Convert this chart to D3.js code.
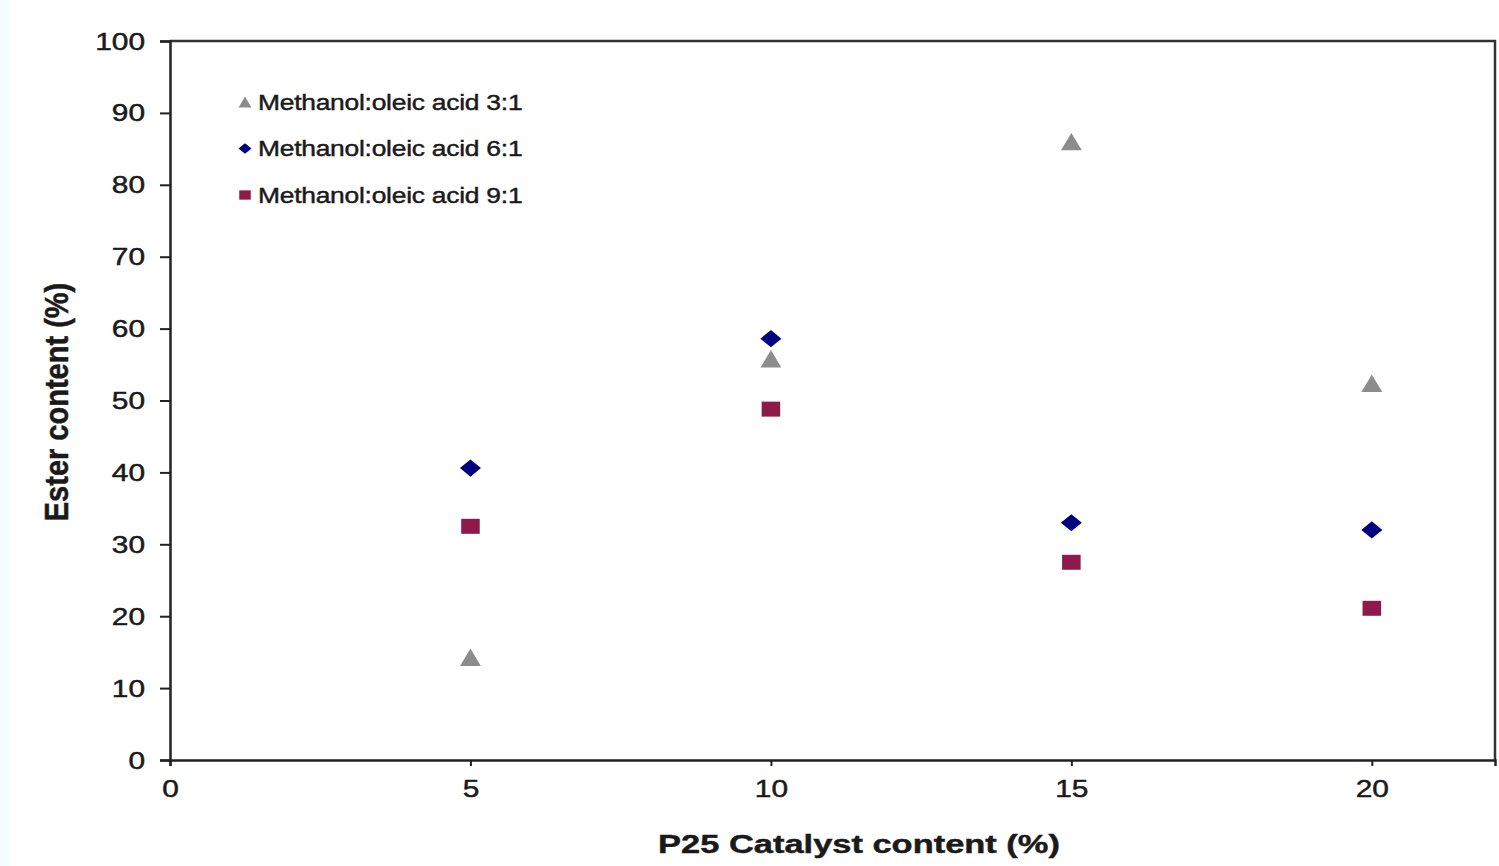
<!DOCTYPE html>
<html lang="en">
<head>
<meta charset="UTF-8">
<script src="https://d3js.org/d3.v7.min.js"></script>
<title>Ester content</title>
<style>
  body { margin: 0; background: #fff; }
  svg text { font-family: "Liberation Sans", Arial, sans-serif; fill: #1a1a1a; stroke: #1a1a1a; stroke-width: 0.45px; }
</style>
</head>
<body>
<div id="canvas"></div>
<script>
// data
const catalyst = [5, 10, 15, 20]
const ratio31 = [14.3, 55.8, 86.0, 52.4]
const ratio61 = [40.6, 58.6, 33.0, 32.0]
const ratio91 = [32.5, 48.8, 27.5, 21.1]
const seriesNames = ["Methanol:oleic acid 3:1", "Methanol:oleic acid 6:1", "Methanol:oleic acid 9:1"]
const xTicks = [0, 5, 10, 15, 20]
const yTicks = [0, 10, 20, 30, 40, 50, 60, 70, 80, 90, 100]

const W = 1499, H = 866
const margin = {top: 41, right: 4, bottom: 106, left: 170}
const gW = W - margin.left - margin.right
const gH = H - margin.top - margin.bottom
const stretch = 1.3   // the original picture is widened horizontally

const svg = d3.select("#canvas").append("svg").attr("width", W).attr("height", H)

// faint strip on the left edge of the original scan
svg.append("rect").attr("x", 0).attr("y", 0).attr("width", 10).attr("height", H).attr("fill", "#f4fdfd")

const g = svg.append("g").attr("transform", `translate(${margin.left},${margin.top})`)

const x = d3.scaleLinear().domain([0, 22.05]).range([0, gW])
const y = d3.scaleLinear().domain([0, 100]).range([gH, 0])

// frame on top and right
g.append("path")
  .attr("d", `M0,0H${gW}V${gH}`)
  .attr("fill", "none").attr("stroke", "#333").attr("stroke-width", 2.5)

const xAxis = g.append("g").attr("transform", `translate(0,${gH})`)
  .call(d3.axisBottom(x).tickValues(xTicks).tickSize(6).tickPadding(15))
const yAxis = g.append("g")
  .call(d3.axisLeft(y).tickValues(yTicks).tickSize(10).tickPadding(15))

;[xAxis, yAxis].forEach(a => {
  a.select(".domain").attr("stroke", "#222").attr("stroke-width", 2.5)
  a.selectAll(".tick line").attr("stroke", "#222").attr("stroke-width", 2)
  a.selectAll(".tick text").style("font-size", "23px").attr("fill", "#1a1a1a")
    .attr("transform", `scale(${stretch},1)`)
})
yAxis.selectAll(".tick text").attr("dy", "0.35em").attr("x", -25 / stretch)

// axis titles
svg.append("text")
  .attr("transform", `translate(859,853) scale(${stretch},1)`)
  .attr("text-anchor", "middle")
  .style("font-size", "26.5px").style("font-weight", "bold")
  .text("P25 Catalyst content (%)")
svg.append("text")
  .attr("transform", "translate(68,402) rotate(-90) scale(1,1.15)")
  .attr("text-anchor", "middle")
  .style("font-size", "29px").style("font-weight", "bold")
  .text("Ester content (%)")

const symTri = d3.symbol().type(d3.symbolTriangle).size(150)
const symDia = d3.symbol().type(d3.symbolDiamond).size(150)
const symSq = d3.symbol().type(d3.symbolSquare).size(260)
// the triangle's centroid sits below the middle of its box; shift it down a little
const triOffset = Math.sqrt(150 / (3 * Math.sqrt(3))) / 2

const series = [
  {name: seriesNames[0], values: ratio31, sym: symTri, color: "#8c8c8c", sx: 1.12, sy: 1.08, dy: triOffset * 1.08},
  {name: seriesNames[1], values: ratio61, sym: symDia, color: "#000080", sx: 1.6, sy: 0.75, dy: 0},
  {name: seriesNames[2], values: ratio91, sym: symSq, color: "#8e1a4c", sx: 1.15, sy: 0.93, dy: 0}
]

series.forEach(s => {
  g.selectAll(null).data(catalyst.map((c, i) => [c, s.values[i]]))
    .enter().append("path")
    .attr("d", s.sym())
    .attr("transform", d => `translate(${x(d[0])},${y(d[1]) + s.dy}) scale(${s.sx},${s.sy})`)
    .attr("fill", s.color)
})

// legend
const legend = svg.append("g").attr("transform", "translate(245,102)")
series.forEach((s, i) => {
  const row = legend.append("g").attr("transform", `translate(0,${i * 46.5})`)
  row.append("path").attr("d", s.sym())
    .attr("transform", `translate(0,${s.dy * 0.62}) scale(${s.sx * 0.62},${s.sy * 0.62})`)
    .attr("fill", s.color)
  row.append("text").attr("transform", "translate(13,0) scale(1.2,1)").attr("dy", "0.35em")
    .style("font-size", "22px").style("letter-spacing", "-0.2px")
    .text(s.name)
})
</script>
</body>
</html>
